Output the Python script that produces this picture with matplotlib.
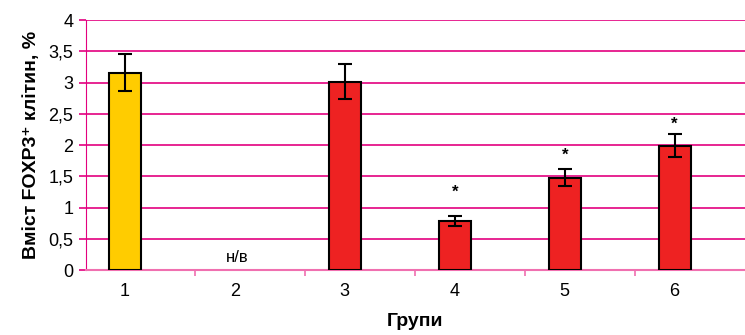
import numpy as np
import matplotlib.pyplot as plt

plt.rcParams['font.family'] = ['Liberation Sans', 'DejaVu Sans']

groups = [1, 2, 3, 4, 5, 6]
values = [3.16, 0.0, 3.01, 0.79, 1.48, 1.99]
errors = [0.29, 0.0, 0.28, 0.08, 0.14, 0.18]
colors = ['#FFCC00', '#EE2222', '#EE2222', '#EE2222', '#EE2222', '#EE2222']
stars = [None, None, None, 1.25, 1.84, 2.34]
tick_labels = ['1', '2', '3', '4', '5', '6']
missing_label = 'н/в'

grid_col = '#E3007F'

fig = plt.figure(figsize=(7.45, 3.35), dpi=100)
ax = fig.add_axes([0.115, 0.194, 0.885, 0.746])

x = np.array(groups)
vals = np.array(values)
errs = np.array(errors)
has = vals > 0

ax.bar(x[has], vals[has], width=0.29,
       color=[c for c, h in zip(colors, has) if h],
       edgecolor='black', linewidth=1.5, zorder=3)
ax.errorbar(x[has], vals[has], yerr=errs[has], fmt='none',
            ecolor='black', elinewidth=1.5, capsize=5, capthick=1.5, zorder=4)

for xi, s in zip(x, stars):
    if s is not None:
        ax.text(xi, s, '*', ha='center', va='center', fontsize=12,
                fontweight='bold', zorder=5)

# group 2 not determined
ax.text(2.02, 0.2, missing_label, ha='center', va='center', fontsize=12)

ax.set_xlim(0.643, 6.64)
ax.set_ylim(0, 4)
ax.set_yticks(np.arange(0, 4.01, 0.5))
ax.set_yticklabels(['0', '0,5', '1', '1,5', '2', '2,5', '3', '3,5', '4'])
ax.set_xticks(x)
ax.set_xticklabels(tick_labels)
ax.set_xticks(np.arange(1.64, 6.0, 1.0), minor=True)

ax.yaxis.grid(True, color=grid_col, linewidth=1.2, zorder=0)
ax.set_axisbelow(True)
for side in ['top', 'right']:
    ax.spines[side].set_visible(False)
ax.spines['left'].set_color(grid_col)
ax.spines['bottom'].set_color('#F070B0')
ax.spines['bottom'].set_linewidth(1.5)

ax.tick_params(axis='y', colors=grid_col, labelcolor='black', labelsize=13,
               length=5, width=1.2, pad=4)
ax.tick_params(axis='x', which='major', length=0, labelsize=13, pad=9)
ax.tick_params(axis='x', which='minor', length=4, color='#F070B0', width=1.2)

ax.set_ylabel('Вміст FOXP3⁺ клітин, %', fontsize=14,
              fontweight='bold', labelpad=6)
ax.set_xlabel('Групи', fontsize=14, fontweight='bold', labelpad=10)

fig.savefig('out.png', dpi=100)
